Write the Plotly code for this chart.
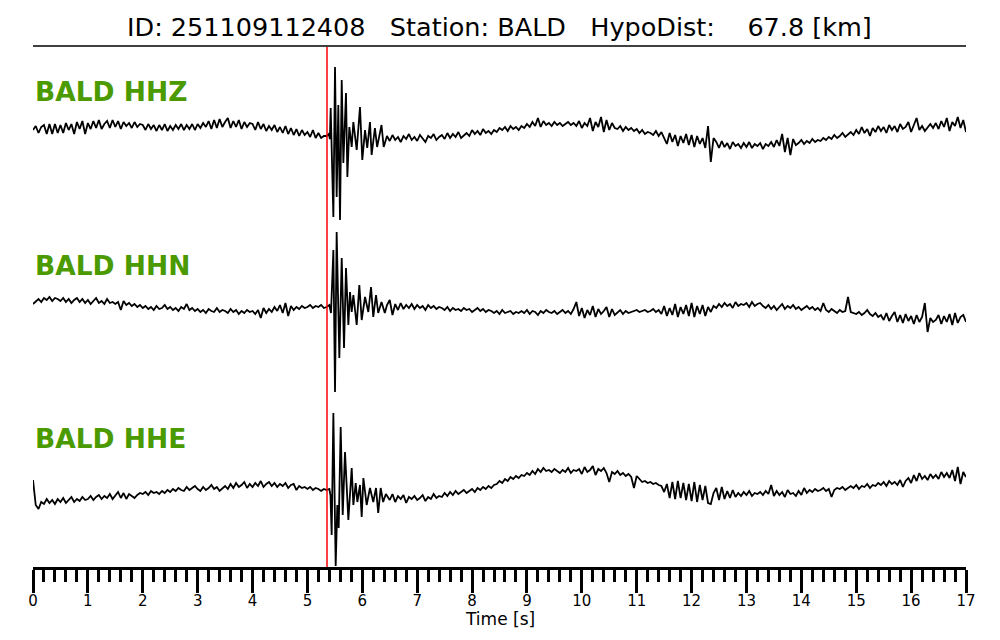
import numpy as np
import plotly.graph_objects as go

# ---------------- data (amplitudes in normalised display units) ----------------
DT = 0.05                 # sampling step of the quiet segments [s]
PRE_START = 0.0           # first sample of pre-event noise
POST_START = 6.45         # first sample of coda segment
P_PICK = 5.357            # P-pick time [s]

channels = ["BALD HHZ", "BALD HHN", "BALD HHE"]

hhz_pre = [
    0, 4, -3, 3, 5, -4, 6, -4, 6, -3,
    5, -3, 7, 0, 6, -4, 8, 1, 9, -4,
    7, 1, 9, 2, 10, 1, 6, 9, 2, 10,
    3, 9, 1, 8, 4, 7, 2, 8, 3, 6,
    5, 0, 6, 1, 5, -1, 5, 0, 6, -1,
    4, 0, 5, 1, 6, 0, 5, 1, 6, 0,
    6, 2, 7, 3, 9, 1, 10, 2, 11, 3,
    8, 12, 2, 9, 3, 10, 1, 8, 3, 7,
    6, 0, 8, 1, 6, -1, 4, 0, 5, -2,
    3, -3, 4, -4, 2, -5, 1, -6, 0, -5,
    -2, -7, 0, -8, -3, -8, -6]
hhz_onset_t = [5.35, 5.39, 5.41, 5.424, 5.473, 5.503, 5.533, 5.563, 5.594, 5.625,
               5.655, 5.703, 5.728, 5.764, 5.807, 5.837, 5.865, 5.898, 5.958, 6.00,
               6.05, 6.09, 6.14, 6.17, 6.23, 6.27, 6.35, 6.39]
hhz_onset = [-6, -4, -9, 22, -87, 63, -67, 25, -90, 50,
             -33, 37, -47, 3, -17, 8, -8, -20, 23, -30,
             0, -18, 8, -25, 2, -17, 5, -17]
hhz_post = [
    -6, -11, -5, -10, -7, -12, -6, -9, -4, -10,
    -7, -11, -5, -9, -12, -6, -8, -4, -10, -7,
    -5, -9, -3, -8, -4, -7, -2, -8, -5, -3,
    -6, 0, -4, -1, -5, 1, -3, -1, -4, 0,
    -2, 2, 0, 3, -1, 4, 1, 3, 0, 4,
    2, 6, 3, 8, 4, 12, 3, 9, 5, 7,
    4, 8, 5, 7, 4, 6, 8, 5, 7, 4,
    9, 2, 7, 4, 12, -1, 8, 3, 13, -2,
    10, 0, 7, 2, 1, 4, -1, 3, 0, 2,
    -1, 1, -3, 0, -4, -2, -3, -5, -1, -6,
    -2, -8, -14, -3, -12, -5, -16, -6, -13, -4,
    -15, -5, -17, -6, -14, -8, -18, 4, -32, -8,
    -12, -18, -11, -17, -13, -19, -12, -16, -14, -18,
    -13, -17, -12, -18, -14, -16, -13, -19, -14, -16,
    -12, -17, -10, -16, -4, -22, -8, -25, -9, -15,
    -13, -10, -14, -11, -13, -9, -12, -10, -11, -8,
    -10, -7, -9, -5, -8, -6, -3, -7, -4, -2,
    -5, 0, -4, 3, -3, 1, -6, 2, -2, 4,
    -1, 3, -3, 5, 0, 4, -2, 6, 1, 3,
    8, -2, 5, 12, 0, 4, -1, 3, 6, 2,
    7, 1, 9, 3, 12, -1, 8, 4, 13, 2,
    10, -2]

hhn_pre = [
    -4, -1, 1, -2, 2, 0, 3, -1, 2, 1,
    -1, 2, -2, 1, -3, 0, 2, -2, 1, -3,
    0, -4, -1, 2, -3, -1, -4, 1, -3, -2,
    -4, -2, -10, -1, -5, -3, -6, -4, -7, -5,
    -8, -6, -9, -7, -10, -6, -9, -8, -5, -9,
    -7, -10, -8, -11, -7, -9, -4, -10, -8, -11,
    -9, -12, -10, -13, -9, -11, -12, -8, -12, -10,
    -11, -13, -9, -12, -10, -14, -11, -13, -10, -12,
    -11, -14, -10, -18, -8, -13, -9, -12, -7, -11,
    -5, -13, -3, -16, -6, -10, -7, -9, -6, -8,
    -7, -5, -8, -6, -7, -5, -8]
hhn_onset_t = [5.35, 5.40, 5.43, 5.473, 5.503, 5.533, 5.582, 5.625, 5.667, 5.703,
               5.746, 5.776, 5.807, 5.837, 5.898, 5.946, 5.989, 6.05, 6.11, 6.159,
               6.20, 6.25, 6.29, 6.35, 6.41]
hhn_onset = [-7, -5, -13, 50, -92, 68, -58, 42, -48, 32,
             -25, 8, -12, 5, -25, 15, -20, 3, -12, 13,
             -17, 5, -13, -2, -13]
hhn_post = [
    -5, 0, -15, -4, -10, -3, -9, -5, -8, -4,
    -9, -5, -8, -6, -10, -5, -8, -6, -9, -7,
    -8, -10, -7, -11, -8, -10, -9, -11, -8, -10,
    -9, -12, -10, -8, -11, -9, -12, -10, -11, -13,
    -11, -14, -10, -13, -12, -11, -14, -12, -13, -11,
    -13, -10, -14, -11, -12, -15, -11, -13, -10, -12,
    -13, -11, -14, -12, -10, -13, -11, -14, -9, -2,
    -16, -8, -18, -10, -15, -6, -17, -9, -14, -11,
    -7, -17, -9, -15, -12, -10, -14, -11, -13, -12,
    -11, -10, -12, -11, -10, -12, -11, -9, -12, -10,
    -14, -6, -16, -8, -15, -4, -17, -7, -14, -5,
    -16, -3, -17, -6, -14, -5, -16, -7, -12, -6,
    -8, -4, -7, -3, -6, -4, -8, -2, -6, -4,
    -5, -3, -7, -2, -6, -4, -3, -6, -8, -5,
    -9, -6, -10, -7, -4, -9, -6, -8, -5, -9,
    -7, -10, -8, -6, -9, -7, -10, -8, -11, -3,
    -10, -12, -9, -11, -13, -10, -12, -11, 3, -12,
    -13, -14, -12, -15, -13, -10, -14, -16, -13, -17,
    -15, -20, -13, -21, -16, -12, -22, -15, -23, -14,
    -21, -16, -24, -15, -22, -17, -3, -32, -18, -22,
    -20, -15, -24, -16, -22, -14, -25, -13, -23, -17,
    -15, -22]

hhe_pre = [
    10, -15, -19, -12, -14, -9, -13, -10, -14, -9,
    -12, -8, -13, -10, -7, -12, -9, -11, -7, -10,
    -9, -6, -10, -7, -5, -9, -6, -8, -4, -9,
    -6, -2, -8, -3, -9, -4, -6, -8, -5, -3,
    -4, -2, -5, -1, -3, -2, -4, -1, -3, 0,
    -2, 1, -1, 2, 0, -1, 3, 0, 2, 4,
    1, -1, 3, 0, 2, 5, 1, 3, -1, 2,
    4, 1, 6, 2, 7, 3, 5, 8, 2, 6,
    3, 7, 4, 9, 3, 6, 8, 4, 7, 3,
    6, 4, 7, 2, 5, 6, 0, 4, 2, 3,
    1, 3, 0, 2, 1, -1, 1]
hhe_onset_t = [5.35, 5.40, 5.42, 5.442, 5.473, 5.515, 5.545, 5.57, 5.606, 5.643,
               5.685, 5.746, 5.807, 5.837, 5.88, 5.91, 5.958, 5.989, 6.02, 6.08,
               6.14, 6.20, 6.25, 6.29, 6.335, 6.38, 6.43]
hhe_onset = [0, 1, -5, -45, 77, -76, -15, -38, 63, -25,
             38, -30, 22, -15, 7, -12, 5, -27, 12, -15,
             2, -12, 2, -23, 2, -12, -4]
hhe_post = [
    -6, -10, -4, -12, -6, -9, -5, -13, -7, -9,
    -6, -10, -8, -5, -11, -7, -9, -4, -8, -6,
    -7, -3, -6, -2, -5, -1, -4, -2, 0, -3,
    -1, 1, -2, 2, 0, 3, 1, 4, 2, 5,
    6, 9, 7, 11, 9, 13, 11, 14, 12, 15,
    14, 17, 15, 19, 16, 21, 18, 22, 19, 20,
    18, 21, 19, 17, 20, 18, 22, 17, 20, 19,
    21, 16, 23, 18, 20, 24, 15, 21, 19, 22,
    17, 8, 18, 16, 19, 15, 17, 14, 16, 13,
    2, 14, 11, 8, 9, 7, 8, 6, 7, 5,
    4, -2, 6, -8, 8, -9, 9, -8, 7, -10,
    6, -11, 8, -12, 5, -10, 4, -13, -14, -3,
    2, -10, 3, -9, -1, -8, 0, -7, -3, -6,
    -2, -5, -1, -6, -3, -4, -2, -5, -1, -4,
    5, -6, -1, -5, -2, -7, 0, -4, -3, -6,
    -1, -5, 2, -3, 0, -2, 1, -1, 0, 2,
    -1, 1, -7, 0, 2, 1, 3, 0, 2, 4,
    2, 5, 1, 4, 3, 6, 2, 5, 4, 7,
    5, 8, 4, 9, 6, 8, 5, 10, 3, 9,
    12, 7, 15, 9, 17, 11, 14, 10, 16, 12,
    15, 11, 18, 13, 17, 12, 20, 9, 23, 6,
    18, 13]

x_ticks = list(range(0, 18))
title_text = "ID: 251109112408   Station: BALD   HypoDist:    67.8 [km]"
x_label = "Time [s]"

# ---------------- layout constants ----------------
W, H = 1000, 640
# the page adds an 8 px body margin, so the figure is shifted back by it
ML, MR, MT, MB = 25, 42, 39, 81
Y_RANGE = [0, 520]
offsets = [437, 267, 77]          # vertical position of each trace
label_y = [476, 302, 129]         # label centre (axis units)
GREEN = "#4a9a00"
FONT = "DejaVu Sans"

traces = [
    (hhz_pre, hhz_onset_t, hhz_onset, hhz_post),
    (hhn_pre, hhn_onset_t, hhn_onset, hhn_post),
    (hhe_pre, hhe_onset_t, hhe_onset, hhe_post),
]

fig = go.Figure()
for (pre, on_t, on_v, post), off, name in zip(traces, offsets, channels):
    t_pre = PRE_START + DT * np.arange(len(pre))
    t_post = POST_START + DT * np.arange(len(post))
    t = np.concatenate([t_pre, np.array(on_t), t_post])
    v = np.concatenate([np.array(pre), np.array(on_v), np.array(post)]).astype(float)
    fig.add_trace(go.Scatter(x=t, y=v + off, mode="lines", name=name,
                             line=dict(color="black", width=1.8),
                             showlegend=False, hoverinfo="skip"))

for name, ly in zip(channels, label_y):
    fig.add_annotation(x=0, xref="paper", y=ly, yref="y", text=f"<b>{name}</b>",
                       showarrow=False, xanchor="left", yanchor="middle",
                       font=dict(family=FONT, size=26.5, color=GREEN))

# P pick
fig.add_shape(type="line", xref="x", yref="paper", x0=P_PICK, x1=P_PICK, y0=0, y1=1,
              line=dict(color="red", width=1.5), layer="above")
# top rule under the title
fig.add_shape(type="line", xref="paper", yref="paper", x0=0, x1=1, y0=1.002, y1=1.002,
              line=dict(color="black", width=1.5))

fig.add_annotation(x=0.5, xref="paper", y=1.0385, yref="paper", text=title_text,
                   showarrow=False, xanchor="center", yanchor="middle",
                   font=dict(family=FONT, size=25.5, color="black"))
fig.add_annotation(x=0.5, xref="paper", y=-0.100, yref="paper", text=x_label,
                   showarrow=False, xanchor="center", yanchor="middle",
                   font=dict(family=FONT, size=17, color="black"))

fig.update_layout(
    width=W, height=H,
    margin=dict(l=ML, r=MR, t=MT, b=MB, pad=0),
    paper_bgcolor="white", plot_bgcolor="white",
    font=dict(family=FONT, color="black"),
    xaxis=dict(range=[0, 17], showgrid=False, zeroline=False,
               showline=True, linecolor="black", linewidth=3,
               ticks="outside", ticklen=23, tickwidth=2.5, tickcolor="black",
               tickvals=x_ticks, ticktext=[str(v) for v in x_ticks],
               tickfont=dict(family=FONT, size=15, color="black"),
               ticklabelstandoff=-5,
               minor=dict(ticks="outside", ticklen=12, tickwidth=2.5,
                          tickcolor="black", dtick=0.2, tick0=0, showgrid=False),
               automargin=False, fixedrange=True),
    yaxis=dict(range=Y_RANGE, visible=False, showgrid=False, zeroline=False,
               fixedrange=True),
)

fig.write_html("out.html")
